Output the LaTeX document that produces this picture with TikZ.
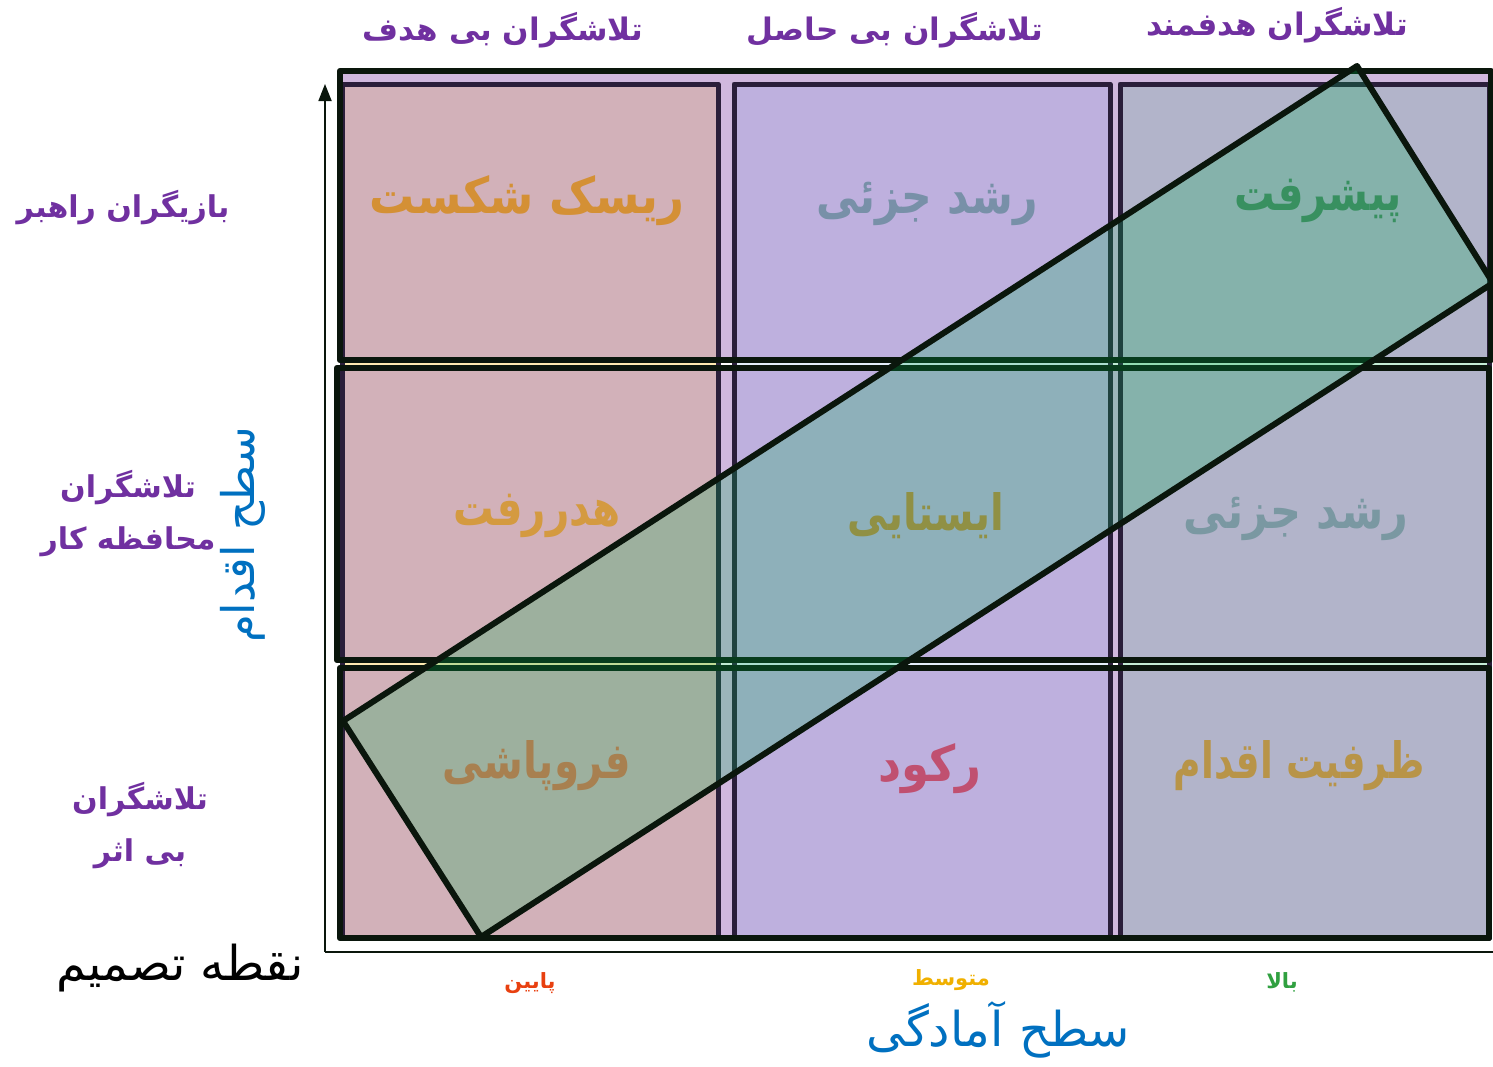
\documentclass[tikz,border=0pt]{standalone}
\usepackage{fontspec}
\usepackage{graphicx}
\usetikzlibrary{arrows.meta}
\newfontfamily\ar[Script=Arabic]{DejaVu Sans}
\TeXXeTstate=1
\newcommand\myxs[2]{\scalebox{#1}[1]{#2}}
\definecolor{rowfill}{HTML}{D0B8DE}
\definecolor{colA}{HTML}{D2B1B9}
\definecolor{colB}{HTML}{BEB0DE}
\definecolor{colC}{HTML}{B2B4CA}
\definecolor{stripA}{HTML}{FEE9B0}
\definecolor{stripB}{HTML}{E4EEFA}
\definecolor{stripC}{HTML}{C4ECD4}
\definecolor{rowline}{HTML}{0A160C}
\definecolor{colline}{HTML}{2A1E3A}
\definecolor{bandgreen}{HTML}{00B050}
\definecolor{hdrpurple}{HTML}{7030A0}
\definecolor{axblue}{HTML}{0070C0}
\definecolor{tOrange}{HTML}{D49035}
\definecolor{tSlate}{HTML}{7890A8}
\definecolor{tGreen}{HTML}{389060}
\definecolor{tOrange2}{HTML}{D49A40}
\definecolor{tOlive}{HTML}{909044}
\definecolor{tSlate2}{HTML}{7A98A2}
\definecolor{tBrown}{HTML}{A88050}
\definecolor{tRed}{HTML}{C05070}
\definecolor{tGold}{HTML}{B89448}
\definecolor{lowred}{HTML}{E84010}
\definecolor{midyel}{HTML}{F0B000}
\definecolor{higrn}{HTML}{30A040}
\tikzset{
  rowborder/.style={draw=rowline,line width=6.5pt,line join=round},
  colborder/.style={draw=colline,line width=5pt,line join=round},
  celltext/.style={font=\ar\bfseries\fontsize{50}{58}\selectfont,inner sep=0pt},
  hdrtext/.style={font=\ar\bfseries\fontsize{31}{36}\selectfont,text=hdrpurple,inner sep=0pt},
  sidetext/.style={font=\ar\bfseries\fontsize{30}{52}\selectfont,text=hdrpurple,inner sep=0pt,align=center},
  leveltext/.style={font=\ar\bfseries\fontsize{21}{25}\selectfont,inner sep=0pt},
  axtext/.style={font=\ar\fontsize{48}{54}\selectfont,inner sep=0pt}
}
\begin{document}
\begin{tikzpicture}[x=1pt,y=-1pt]
\useasboundingbox (0,0) rectangle (1493,1066);
% row backgrounds
\fill[rowfill] (340,71) rectangle (1491,360);
\fill[rowfill] (337,368) rectangle (1489,660);
\fill[rowfill] (340,668) rectangle (1489,938);
% strips between rows
\foreach \y in {360,660}{
  \fill[stripA] (342,\y) rectangle (718,\y+8);
  \fill[stripB] (734,\y) rectangle (1110,\y+8);
  \fill[stripC] (1120,\y) rectangle (1489,\y+8);
}
% column cells
\foreach \a/\b in {84/360,368/660,668/938}{
  \fill[colA] (342,\a) rectangle (718,\b);
  \fill[colB] (734,\a) rectangle (1110,\b);
  \fill[colC] (1120,\a) rectangle (1489,\b);
}
% column borders
\draw[colborder] (342,84) rectangle (718,938);
\draw[colborder] (734,84) rectangle (1110,938);
\draw[colborder] (1120,84) rectangle (1489,938);
% row borders
\draw[rowborder] (340,71) rectangle (1491,360);
\draw[rowborder] (337,368) rectangle (1489,660);
\draw[rowborder] (340,668) rectangle (1489,938);
% axes
\coordinate (origin) at (325,952);
\coordinate (ytop) at (325,84);
\coordinate (xend) at (1493,952);
\draw[rowline,line width=1.8pt,-{Triangle[length=17pt,width=13pt]}] (origin) -- (ytop);
\draw[rowline,line width=1.8pt] (origin) -- (xend);
% diagonal band
\coordinate (b1) at (343,721);
\coordinate (b2) at (1357,66);
\coordinate (b3) at (1493,283);
\coordinate (b4) at (481,937);
\draw[fill=bandgreen,fill opacity=0.25,draw=rowline,line width=6pt,line join=round] (b1) -- (b2) -- (b3) -- (b4) -- cycle;
% headers
\node[hdrtext] (h1) at (503,30) {\beginR تلاشگران بی هدف\endR};
\node[hdrtext] (h2) at (895,30) {\beginR تلاشگران بی حاصل\endR};
\node[hdrtext] (h3) at (1277,25) {\beginR تلاشگران هدفمند\endR};
% side labels
\node[sidetext] (s1) at (123,208) {\beginR بازیگران راهبر\endR};
\node[sidetext] (s2) at (128,514) {\beginR تلاشگران\endR\\\beginR محافظه کار\endR};
\node[sidetext] (s3) at (140,826) {\beginR تلاشگران\endR\\\beginR بی اثر\endR};
\node[axtext,font=\ar\fontsize{45}{50}\selectfont,text=axblue,rotate=90] (yl) at (243,535) {\beginR سطح اقدام\endR};
% cell texts
\node[celltext,text=tOrange] (c11) at (527,201) {\myxs{0.90}{\beginR ریسک شکست\endR}};
\node[celltext,text=tSlate] (c12) at (927,204) {\myxs{0.85}{\beginR رشد جزئی\endR}};
\node[celltext,text=tGreen] (c13) at (1318,201) {\myxs{0.81}{\beginR پیشرفت\endR}};
\node[celltext,text=tOrange2] (c21) at (537,516) {\myxs{0.81}{\beginR هدررفت\endR}};
\node[celltext,text=tOlive] (c22) at (926,516) {\myxs{0.80}{\beginR ایستایی\endR}};
\node[celltext,text=tSlate2] (c23) at (1296,519) {\myxs{0.86}{\beginR رشد جزئی\endR}};
\node[celltext,text=tBrown] (c31) at (537,766) {\myxs{0.81}{\beginR فروپاشی\endR}};
\node[celltext,text=tRed] (c32) at (930,769) {\myxs{0.90}{\beginR رکود\endR}};
\node[celltext,text=tGold] (c33) at (1299,766) {\myxs{0.75}{\beginR ظرفیت اقدام\endR}};
% level labels
\node[leveltext,text=lowred] (lv1) at (530,983) {\beginR پایین\endR};
\node[leveltext,text=midyel] (lv2) at (951,980) {\beginR متوسط\endR};
\node[leveltext,text=higrn] (lv3) at (1282,982) {\beginR بالا\endR};
\node[axtext,text=axblue] (xl) at (998,1030) {\beginR سطح آمادگی\endR};
\node[axtext,text=black] (dp) at (180,968) {\beginR نقطه تصمیم\endR};
\end{tikzpicture}
\end{document}
